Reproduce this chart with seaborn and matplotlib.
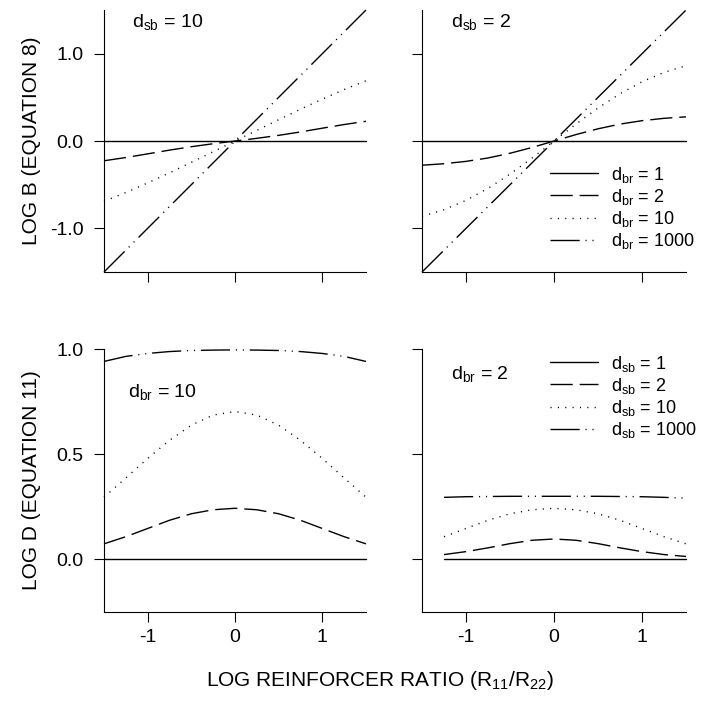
import matplotlib
matplotlib.use("Agg")
import matplotlib.pyplot as plt
import seaborn as sns

# Log reinforcer ratio, log10(R11/R22)
x_full = [-1.5, -1.25, -1.0, -0.75, -0.5, -0.25, 0.0, 0.25, 0.5, 0.75, 1.0, 1.25, 1.5]
x_short = [-1.25, -1.0, -0.75, -0.5, -0.25, 0.0, 0.25, 0.5, 0.75, 1.0, 1.25, 1.5]

# Log B (Equation 8), d_sb = 10
logb_sb10_br1 = [0.0, 0.0, 0.0, 0.0, 0.0, 0.0, 0.0, 0.0, 0.0, 0.0, 0.0, 0.0, 0.0]
logb_sb10_br2 = [-0.226, -0.189, -0.147, -0.104, -0.065, -0.031, 0.0, 0.031, 0.065, 0.104, 0.147, 0.189, 0.226]
logb_sb10_br10 = [-0.690, -0.590, -0.480, -0.364, -0.244, -0.122, 0.0, 0.122, 0.244, 0.364, 0.480, 0.590, 0.690]
logb_sb10_br1000 = [-1.5, -1.25, -1.0, -0.75, -0.5, -0.25, 0.0, 0.25, 0.5, 0.75, 1.0, 1.25, 1.5]

# Log B (Equation 8), d_sb = 2
logb_sb2_br1 = [0.0, 0.0, 0.0, 0.0, 0.0, 0.0, 0.0, 0.0, 0.0, 0.0, 0.0, 0.0, 0.0]
logb_sb2_br2 = [-0.277, -0.260, -0.233, -0.194, -0.140, -0.074, 0.0, 0.074, 0.140, 0.194, 0.233, 0.260, 0.277]
logb_sb2_br10 = [-0.863, -0.786, -0.679, -0.542, -0.378, -0.195, 0.0, 0.195, 0.378, 0.542, 0.679, 0.786, 0.863]
logb_sb2_br1000 = [-1.5, -1.25, -1.0, -0.75, -0.5, -0.25, 0.0, 0.25, 0.5, 0.75, 1.0, 1.25, 1.5]

# Log D (Equation 11), d_br = 10
logd_br10_sb1 = [0.0, 0.0, 0.0, 0.0, 0.0, 0.0, 0.0, 0.0, 0.0, 0.0, 0.0, 0.0, 0.0]
logd_br10_sb2 = [0.074, 0.108, 0.147, 0.186, 0.217, 0.236, 0.243, 0.236, 0.217, 0.186, 0.147, 0.108, 0.074]
logd_br10_sb10 = [0.296, 0.387, 0.480, 0.566, 0.638, 0.686, 0.703, 0.686, 0.638, 0.566, 0.480, 0.387, 0.296]
logd_br10_sb1000 = [0.941, 0.965, 0.979, 0.988, 0.993, 0.995, 0.996, 0.995, 0.993, 0.988, 0.979, 0.965, 0.941]

# Log D (Equation 11), d_br = 2
logd_br2_sb1 = [0.0, 0.0, 0.0, 0.0, 0.0, 0.0, 0.0, 0.0, 0.0, 0.0, 0.0, 0.0]
logd_br2_sb2 = [0.023, 0.037, 0.055, 0.075, 0.091, 0.097, 0.091, 0.075, 0.055, 0.037, 0.023, 0.014]
logd_br2_sb10 = [0.108, 0.147, 0.186, 0.217, 0.236, 0.243, 0.236, 0.217, 0.186, 0.147, 0.108, 0.074]
logd_br2_sb1000 = [0.295, 0.298, 0.299, 0.300, 0.300, 0.300, 0.300, 0.300, 0.299, 0.298, 0.295, 0.291]

x_ticks = [-1, 0, 1]
b_ticks = [-1.0, 0.0, 1.0]
d_ticks = [0.0, 0.5, 1.0]

sns.set_style("ticks")
plt.rcParams.update({
    "font.family": ["Liberation Sans", "DejaVu Sans"],
    "mathtext.fontset": "custom",
    "mathtext.rm": "Liberation Sans",
    "mathtext.it": "Liberation Sans",
    "mathtext.default": "regular",
    "axes.unicode_minus": False,
    "axes.linewidth": 0.8,
    "axes.edgecolor": "black",
    "text.color": "black",
    "axes.labelcolor": "black",
    "xtick.color": "black",
    "ytick.color": "black",
    "xtick.labelcolor": "black",
    "ytick.labelcolor": "black",
})

SOLID = "-"
DASHED = (0, (16, 5))
DOTTED = (0, (0.8, 4.5))
DASHDOTDOT = (0, (21, 4.2, 0.8, 4.2, 0.8, 4.2))

fig = plt.figure(figsize=(7.05, 7.02), dpi=100)
ax_tl = fig.add_axes([0.1475, 0.6125, 0.3716, 0.3732])
ax_tr = fig.add_axes([0.5986, 0.6125, 0.3745, 0.3732])
ax_bl = fig.add_axes([0.1475, 0.1282, 0.3716, 0.3746])
ax_br = fig.add_axes([0.5986, 0.1282, 0.3745, 0.3746])


def draw_curves(ax, xs, curves):
    for label, ys, style in curves:
        sns.lineplot(x=xs, y=ys, ax=ax, color="black", linewidth=1.0,
                     linestyle=style, label=label, legend=False,
                     estimator=None, sort=False, clip_on=False)


draw_curves(ax_tl, x_full, [
    ("d$_{br}$ = 1", logb_sb10_br1, SOLID),
    ("d$_{br}$ = 2", logb_sb10_br2, DASHED),
    ("d$_{br}$ = 10", logb_sb10_br10, DOTTED),
    ("d$_{br}$ = 1000", logb_sb10_br1000, DASHDOTDOT),
])
draw_curves(ax_tr, x_full, [
    ("d$_{br}$ = 1", logb_sb2_br1, SOLID),
    ("d$_{br}$ = 2", logb_sb2_br2, DASHED),
    ("d$_{br}$ = 10", logb_sb2_br10, DOTTED),
    ("d$_{br}$ = 1000", logb_sb2_br1000, DASHDOTDOT),
])
draw_curves(ax_bl, x_full, [
    ("d$_{sb}$ = 1", logd_br10_sb1, SOLID),
    ("d$_{sb}$ = 2", logd_br10_sb2, DASHED),
    ("d$_{sb}$ = 10", logd_br10_sb10, DOTTED),
    ("d$_{sb}$ = 1000", logd_br10_sb1000, DASHDOTDOT),
])
draw_curves(ax_br, x_short, [
    ("d$_{sb}$ = 1", logd_br2_sb1, SOLID),
    ("d$_{sb}$ = 2", logd_br2_sb2, DASHED),
    ("d$_{sb}$ = 10", logd_br2_sb10, DOTTED),
    ("d$_{sb}$ = 1000", logd_br2_sb1000, DASHDOTDOT),
])

for ax in (ax_tl, ax_tr, ax_bl, ax_br):
    ax.set_xlim(-1.5, 1.5)
    ax.set_xticks(x_ticks)
    ax.set_xticklabels([str(t) for t in x_ticks])
    ax.set_xlabel("")
    ax.set_ylabel("")
    sns.despine(ax=ax)
    ax.tick_params(direction="out", length=7, width=0.8, labelsize=14,
                   color="black", labelcolor="black")
    ax.tick_params(axis="x", pad=5)
    ax.tick_params(axis="y", pad=7.5)

for ax in (ax_tl, ax_tr):
    ax.set_ylim(-1.5, 1.5)
    ax.set_yticks(b_ticks)
    ax.set_yticklabels([f"{t:.1f}" for t in b_ticks])
    ax.tick_params(labelbottom=False)

for ax in (ax_bl, ax_br):
    ax.set_ylim(-0.25, 1.0)
    ax.set_yticks(d_ticks)
    ax.set_yticklabels([f"{t:.1f}" for t in d_ticks])

ax_tr.tick_params(labelleft=False)
ax_br.tick_params(labelleft=False)

ax_tl.set_ylabel("LOG B (EQUATION 8)", fontsize=15, color="black")
ax_bl.set_ylabel("LOG D (EQUATION 11)", fontsize=15, color="black")
ax_tl.yaxis.set_label_coords(-0.24, 0.5)
ax_bl.yaxis.set_label_coords(-0.24, 0.5)

fig.text(380 / 705, 1 - 681 / 702, "LOG REINFORCER RATIO (R$_{11}$/R$_{22}$)",
         ha="center", va="center", fontsize=15, color="black")

ax_tl.text(0.107, 0.936, "d$_{sb}$ = 10", transform=ax_tl.transAxes,
           fontsize=14, ha="left", va="baseline", color="black")
ax_tr.text(0.109, 0.936, "d$_{sb}$ = 2", transform=ax_tr.transAxes,
           fontsize=14, ha="left", va="baseline", color="black")
ax_bl.text(0.093, 0.817, "d$_{br}$ = 10", transform=ax_bl.transAxes,
           fontsize=14, ha="left", va="baseline", color="black")
ax_br.text(0.11, 0.886, "d$_{br}$ = 2", transform=ax_br.transAxes,
           fontsize=14, ha="left", va="baseline", color="black")

legend_kw = dict(loc="upper left", frameon=False, fontsize=13,
                 handlelength=2.66, handletextpad=0.72, labelspacing=0.12,
                 borderpad=0, borderaxespad=0, labelcolor="black")
ax_tr.legend(bbox_to_anchor=(0.485, 0.41), **legend_kw)
ax_br.legend(bbox_to_anchor=(0.485, 0.983), **legend_kw)

fig.savefig("out.png", dpi=100)
